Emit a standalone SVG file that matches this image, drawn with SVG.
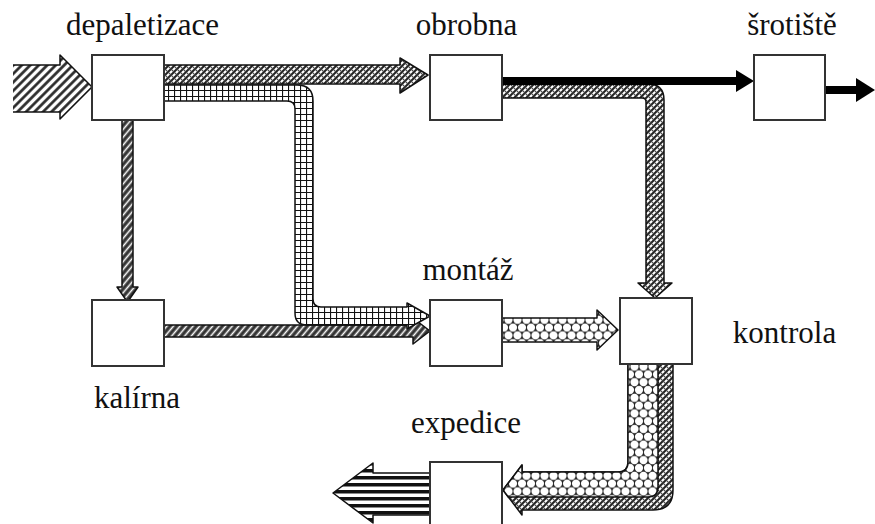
<svg xmlns="http://www.w3.org/2000/svg" width="875" height="524" viewBox="0 0 875 524">
  <style>
    .box { fill: #fff; stroke: #333; stroke-width: 2; }
    .lbl { font-size: 31px; fill: #111; text-anchor: middle; }
    .edge { stroke: #111; stroke-width: 1.5; stroke-linejoin: round; }
  </style>
  <defs>
    <!-- light diagonal hatch -->
    <pattern id="hatch" width="6" height="6" patternUnits="userSpaceOnUse" patternTransform="rotate(45)">
      <rect width="6" height="6" fill="#fff"/>
      <line x1="1.5" y1="0" x2="1.5" y2="6" stroke="#222" stroke-width="2.6"/>
    </pattern>
    <!-- dense diagonal hatch -->
    <pattern id="hatchDense" width="5" height="5" patternUnits="userSpaceOnUse" patternTransform="rotate(40)">
      <rect width="5" height="5" fill="#333"/>
      <line x1="2.5" y1="0" x2="2.5" y2="5" stroke="#fff" stroke-width="1.6"/>
    </pattern>
    <!-- diagonal cross hatch -->
    <pattern id="cross" width="6" height="6" patternUnits="userSpaceOnUse">
      <rect width="6" height="6" fill="#fff"/>
      <path d="M0,6 L6,0 M-1,1 L1,-1 M5,7 L7,5" stroke="#222" stroke-width="2"/>
      <path d="M0,0 L6,6" stroke="#444" stroke-width="1.2"/>
    </pattern>
    <!-- square grid -->
    <pattern id="grid" width="6" height="6" patternUnits="userSpaceOnUse">
      <rect width="6" height="6" fill="#fff"/>
      <path d="M0,0.5 H6 M0.5,0 V6" stroke="#111" stroke-width="1.2"/>
    </pattern>
    <!-- honeycomb -->
    <pattern id="hex" width="9" height="15.6" patternUnits="userSpaceOnUse">
      <rect width="9" height="15.6" fill="#222"/>
      <g fill="#fff">
        <circle cx="0" cy="0" r="4.1"/>
        <circle cx="9" cy="0" r="4.1"/>
        <circle cx="4.5" cy="7.8" r="4.1"/>
        <circle cx="0" cy="15.6" r="4.1"/>
        <circle cx="9" cy="15.6" r="4.1"/>
      </g>
    </pattern>
    <!-- horizontal stripes -->
    <pattern id="stripes" width="8" height="7" patternUnits="userSpaceOnUse">
      <rect width="8" height="7" fill="#fff"/>
      <rect y="0" width="8" height="3.5" fill="#111"/>
    </pattern>
  </defs>

  <g id="connectors">
    <!-- incoming material -->
    <path d="M13,65 H60 V55 L92,87 L60,119 V112 H13 Z" fill="url(#hatch)"/>
    <path class="edge" d="M13,65 H60 V55 L92,87 L60,119 V112 H13" fill="none"/>

    <!-- depaletizace to kalirna -->
    <path class="edge" d="M122,120 V287 H117 L127.5,302 L138,287 H133 V120 Z" fill="url(#hatchDense)"/>

    <!-- kalirna to montaz -->
    <path class="edge" d="M164,325 H413 V318 L430,331 L413,344 V337 H164 Z" fill="url(#hatchDense)"/>

    <!-- depaletizace to montaz -->
    <path class="edge" d="M164,85 H297 Q313,85 313,101 V299 Q313,307 321,307 H407 V303 L430,316 L407,329 V325 H307 Q295,325 295,313 V109 Q295,101 287,101 H164 Z" fill="url(#grid)"/>

    <!-- depaletizace to obrobna -->
    <path class="edge" d="M164,65 H400 V58 L428,75 L400,93 V84 H164 Z" fill="url(#cross)"/>

    <!-- obrobna to kontrola -->
    <path class="edge" d="M502,84 H648 Q664,84 664,100 V283 H672 L655,298 L638,283 H646 V102 Q646,98 642,98 H502 Z" fill="url(#cross)"/>

    <!-- obrobna to srotiste -->
    <path d="M502,81 H740" stroke="#000" stroke-width="8"/>
    <path d="M736,70 L754,81 L736,92 Z" fill="#000"/>

    <!-- srotiste outlet -->
    <path d="M825,90 H860" stroke="#000" stroke-width="8"/>
    <path d="M856,78 L875,90 L856,102 Z" fill="#000"/>

    <!-- montaz to kontrola -->
    <path class="edge" d="M502,318 H597 V310 L618,330 L597,350 V342 H502 Z" fill="url(#hex)"/>

    <!-- kontrola to expedice -->
    <path class="edge" d="M628,364 V462 Q628,472 618,472 H522 V465 L503,490 L522,515 V510 H653 Q673,510 673,490 V364 Z" fill="url(#cross)"/>
    <path class="edge" d="M628,364 V462 Q628,472 618,472 H522 V465 L503,490 L508.3,497 H648 Q658,497 658,487 V364 Z" fill="url(#hex)"/>

    <!-- dispatch outlet -->
    <path d="M430,473 H373 V463 L333,493 L373,523 V515 H430 Z" fill="url(#stripes)"/>
    <path class="edge" d="M430,473 H373 V463 L333,493 L373,523 V515 H430" fill="none"/>
  </g>

  <g font-family="'Liberation Serif', 'Times New Roman', serif">
    <g id="depaletizace">
      <rect class="box" x="92" y="55" width="72" height="65"/>
      <text class="lbl" x="142.5" y="35">depaletizace</text>
    </g>
    <g id="obrobna">
      <rect class="box" x="430" y="55" width="72" height="65"/>
      <text class="lbl" x="466.5" y="35">obrobna</text>
    </g>
    <g id="srotiste">
      <rect class="box" x="754" y="55" width="71" height="65"/>
      <text class="lbl" x="792" y="35">šrotiště</text>
    </g>
    <g id="kalirna">
      <rect class="box" x="92" y="300" width="72" height="66"/>
      <text class="lbl" x="137" y="408">kalírna</text>
    </g>
    <g id="montaz">
      <rect class="box" x="430" y="300" width="72" height="66"/>
      <text class="lbl" x="468" y="280">montáž</text>
    </g>
    <g id="kontrola">
      <rect class="box" x="620" y="298" width="72" height="66"/>
      <text class="lbl" x="784.5" y="343">kontrola</text>
    </g>
    <g id="expedice">
      <rect class="box" x="430" y="462" width="72" height="70"/>
      <text class="lbl" x="466" y="433">expedice</text>
    </g>
  </g>
</svg>
